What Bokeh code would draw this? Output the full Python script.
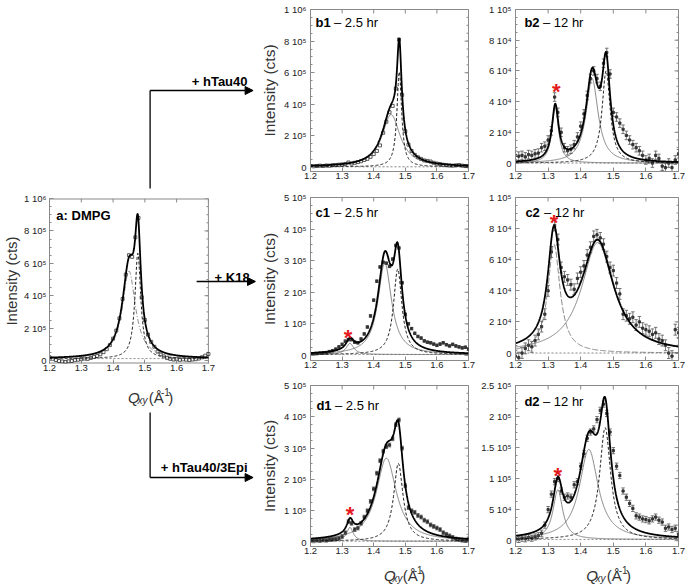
import math
import numpy as np
from bokeh.plotting import figure
from bokeh.layouts import row, column
from bokeh.models import LinearAxis, FixedTicker, Label, Arrow, NormalHead, Range1d
from bokeh.embed import file_html
from bokeh.resources import INLINE

FONT = "Liberation Sans"

# ---------------- data ----------------
Q = [1.20, 1.21, 1.22, 1.23, 1.24, 1.25, 1.26, 1.27, 1.28, 1.29,
     1.30, 1.31, 1.32, 1.33, 1.34, 1.35, 1.36, 1.37, 1.38, 1.39,
     1.40, 1.41, 1.42, 1.43, 1.44, 1.45, 1.46, 1.47, 1.48, 1.49,
     1.50, 1.51, 1.52, 1.53, 1.54, 1.55, 1.56, 1.57, 1.58, 1.59,
     1.60, 1.61, 1.62, 1.63, 1.64, 1.65, 1.66, 1.67, 1.68, 1.69, 1.70]

I_a = [2.0e4, 1.0e4, 0.3e4, -0.3e4, -0.6e4, -0.9e4, -0.5e4, -0.3e4, 0.2e4, 0.5e4,
       0.8e4, 1.2e4, 1.0e4, 1.6e4, 2.2e4, 2.8e4, 3.8e4, 5.2e4, 7.0e4, 9.5e4,
       1.35e5, 1.85e5, 2.6e5, 3.8e5, 5.3e5, 6.5e5, 6.4e5, 7.6e5, 8.8e5, 3.9e5,
       2.5e5, 1.6e5, 1.15e5, 8.5e4, 5.5e4, 3.8e4, 2.5e4, 1.5e4, 1.0e4, 0.6e4,
       0.8e4, 0.4e4, 0.7e4, 0.5e4, 0.3e4, 0.6e4, 0.8e4, 1.2e4, 2.0e4, 3.0e4, 4.0e4]

I_b1 = [1.0e4, 0.8e4, 1.0e4, 1.2e4, 1.0e4, 1.3e4, 1.2e4, 1.5e4, 1.6e4, 1.8e4,
        2.0e4, 2.2e4, 3.2e4, 2.5e4, 3.0e4, 3.5e4, 4.0e4, 4.8e4, 5.5e4, 6.8e4,
        8.5e4, 1.05e5, 1.4e5, 2.2e5, 2.9e5, 3.5e5, 3.9e5, 5.0e5, 8.1e5, 4.6e5,
        2.3e5, 1.45e5, 1.05e5, 8.0e4, 6.5e4, 5.5e4, 4.5e4, 4.2e4, 3.8e4, 3.0e4,
        2.5e4, 2.2e4, 1.8e4, 1.5e4, 1.3e4, 1.2e4, 1.4e4, 1.6e4, 1.2e4, 1.0e4, 0.8e4]

I_b2 = [5000, 4500, 5000, 4000, 5500, 5000, 6000, 6500, 10000, 11000,
        15000, 21000, 43000, 33000, 20000, 10000, 8000, 9000, 12000, 17000,
        24000, 32000, 44000, 55000, 60000, 55000, 50000, 65000, 72000, 58000,
        33000, 30000, 26000, 22000, 18000, 15000, 12000, 10000, 8000, 5000,
        2000, 3000, 0, 5000, 3000, -2000, -3000, 0, -3000, 2000, 6000]

I_c1 = [4000, 5000, 6000, 7000, 8000, 9000, 12000, 15000, 20000, 27000,
        35000, 45000, 50000, 50000, 42000, 40000, 52000, 68000, 90000, 125000,
        175000, 235000, 280000, 295000, 292000, 282000, 305000, 348000, 340000, 230000,
        130000, 100000, 85000, 70000, 60000, 55000, 46000, 42000, 40000, 36000,
        32000, 36000, 40000, 34000, 30000, 35000, 30000, 27000, 24000, 26000, 20000]

I_c2 = [-2000, -3000, 0, 3000, 5000, 4000, 8000, 12000, 17000, 25000,
        40000, 65000, 82000, 73000, 55000, 49000, 47000, 44000, 41000, 48000,
        52000, 56000, 63000, 68000, 75000, 76000, 74000, 70000, 62000, 55000,
        53000, 45000, 38000, 25000, 24000, 22000, 23000, 18000, 20000, 16000,
        15000, 14000, 12000, 13000, 9000, 8000, 5000, 0, -2000, 15000, 13000]

I_d1 = [5000, 4000, 6000, 5000, 7000, 6000, 8000, 9000, 10000, 12000,
        18000, 30000, 65000, 60000, 40000, 45000, 60000, 80000, 100000, 130000,
        170000, 220000, 260000, 290000, 305000, 310000, 330000, 375000, 390000, 300000,
        180000, 110000, 100000, 95000, 85000, 80000, 70000, 65000, 55000, 50000,
        45000, 40000, 30000, 25000, 20000, 15000, 10000, 8000, 6000, 5000, 10000]

I_d2 = [3000, 2000, 4000, 3000, 5000, 4000, 6000, 8000, 12000, 25000,
        50000, 75000, 95000, 100000, 80000, 70000, 72000, 70000, 90000, 95000,
        120000, 140000, 165000, 175000, 180000, 195000, 210000, 220000, 205000, 175000,
        145000, 120000, 105000, 80000, 70000, 60000, 52000, 40000, 38000, 35000,
        34000, 32000, 35000, 38000, 33000, 30000, 20000, 22000, 18000, 20000, 10000]

# error-bar half heights (counts)
ERR_b2 = 2800
ERR_c1 = 4000
ERR_c2 = 3500
ERR_d1 = 6000
ERR_d2 = 5000

# fitted peaks: centre, height, FWHM, style
FIT_a = [(1.450, 5.4e5, 0.050, "dashdot"), (1.478, 6.5e5, 0.022, "dash")]
FIT_b1 = [(1.455, 3.3e5, 0.070, "thin"), (1.481, 6.0e5, 0.018, "dash")]
FIT_b2 = [(1.322, 3.6e4, 0.025, "thin"), (1.435, 5.5e4, 0.045, "thin"), (1.478, 6.0e4, 0.030, "dash")]
FIT_c1 = [(1.325, 3.5e4, 0.030, "thin"), (1.435, 2.9e5, 0.052, "thin"), (1.476, 2.7e5, 0.032, "dash")]
FIT_c2 = [(1.318, 7.0e4, 0.045, "longdash"), (1.452, 7.1e4, 0.120, "thin")]
FIT_d1 = [(1.325, 4.4e4, 0.025, "thin"), (1.440, 2.65e5, 0.077, "thin"), (1.478, 2.48e5, 0.036, "dash")]
FIT_d2 = [(1.330, 8.0e4, 0.036, "thin"), (1.425, 1.45e5, 0.070, "thin"), (1.475, 1.8e5, 0.041, "dash")]
BASE = {"a": 1.2e4, "b1": 5e3, "b2": 0.0, "c1": 3e3, "c2": 0.0, "d1": 3e3, "d2": 2e3}

# red asterisks marking the extra peak
STAR = {"b2": (1.325, 5.0e4), "c1": (1.319, 7.4e4), "c2": (1.318, 8.7e4),
        "d1": (1.325, 1.05e5), "d2": (1.330, 1.135e5)}

X_TICKS = [1.2, 1.3, 1.4, 1.5, 1.6, 1.7]
X_LABELS = ["1.2", "1.3", "1.4", "1.5", "1.6", "1.7"]
Y_TICKS_1E6 = [0, 200000, 400000, 600000, 800000, 1000000]
Y_LABELS_1E6 = ["0", "2 10\u2075", "4 10\u2075", "6 10\u2075", "8 10\u2075", "1 10\u2076"]
Y_TICKS_1E5 = [0, 20000, 40000, 60000, 80000, 100000]
Y_LABELS_1E5 = ["0", "2 10\u2074", "4 10\u2074", "6 10\u2074", "8 10\u2074", "1 10\u2075"]
Y_TICKS_5E5 = [0, 100000, 200000, 300000, 400000, 500000]
Y_LABELS_5E5 = ["0", "1 10\u2075", "2 10\u2075", "3 10\u2075", "4 10\u2075", "5 10\u2075"]
Y_TICKS_25E4 = [0, 50000, 100000, 150000, 200000, 250000]
Y_LABELS_25E4 = ["0", "5 10\u2074", "1 10\u2075", "1.5 10\u2075", "2 10\u2075", "2.5 10\u2075"]

TITLES = {"a": ("a: DMPG", ""), "b1": ("b1", "\u2013 2.5 hr"), "b2": ("b2", "\u2013 12 hr"),
          "c1": ("c1", "\u2013 2.5 hr"), "c2": ("c2", "\u2013 12 hr"),
          "d1": ("d1", "\u2013 2.5 hr"), "d2": ("d2", "\u2013 12 hr")}
ARROW_TEXT = ["+ hTau40", "+ K18", "+ hTau40/3Epi"]

# ---------------- layout (page pixels) ----------------
GEOM = {
    "a":  dict(ox=0,   oy=190, w=258, h=191, bl=45, br=3,  bt=8,  bb=18, ymin=-1.85e4, ymax=1e6, dw=162, tdx=7, tdy=17),
    "b1": dict(ox=258, oy=0,   w=220, h=185, bl=50, br=10, bt=9,  bb=14, ymin=-2.5e4, ymax=1e6, tdx=5, tdy=13),
    "c1": dict(ox=258, oy=185, w=220, h=189, bl=50, br=10, bt=12, bb=14, ymin=-1.6e4, ymax=5e5, tdx=5, tdy=15),
    "d1": dict(ox=258, oy=374, w=220, h=184, bl=50, br=10, bt=11, bb=12, ymin=-1.4e4, ymax=5e5, tdx=6, tdy=20),
    "b2": dict(ox=478, oy=0,   w=207, h=185, bl=35, br=7,  bt=9,  bb=14, ymin=-5.5e3, ymax=1e5, tdx=9, tdy=13),
    "c2": dict(ox=478, oy=185, w=207, h=189, bl=35, br=7,  bt=12, bb=14, ymin=-4.8e3, ymax=1e5, tdx=10, tdy=15),
    "d2": dict(ox=478, oy=374, w=207, h=184, bl=35, br=7,  bt=11, bb=12, ymin=-9.4e3, ymax=2.5e5, tdx=9, tdy=16),
}
for g in GEOM.values():
    g["fl"] = g["ox"] + g["bl"]
    g["ft"] = g["oy"] + g["bt"]
    g["fw"] = g["w"] - g["bl"] - g["br"]
    g["fh"] = g["h"] - g["bt"] - g["bb"]
    dw = g.get("dw", g["fw"])          # pixel width of 1.2 .. 1.7
    g["dw"] = dw
    g["xmax"] = 1.2 + 0.5 * g["fw"] / dw


def X(g, px):
    return 1.2 + (px - g["fl"]) / g["dw"] * 0.5


def Y(g, py):
    return g["ymax"] - (py - g["ft"]) / g["fh"] * (g["ymax"] - g["ymin"])


AX_COLOR = "#8a8a8a"
TXT = "#222222"


def style_axis(ax):
    ax.axis_line_color = AX_COLOR
    ax.major_tick_line_color = AX_COLOR
    ax.minor_tick_line_color = AX_COLOR
    ax.major_tick_in = 4
    ax.major_tick_out = 0
    ax.minor_tick_in = 2
    ax.minor_tick_out = 0
    ax.major_label_text_font = FONT
    ax.major_label_text_font_size = "9.5px"
    ax.major_label_text_color = TXT


def make_panel(key, yticks, ylabels, ytitle=True):
    g = GEOM[key]
    p = figure(width=g["w"], height=g["h"], x_range=Range1d(1.2, g["xmax"]),
               y_range=Range1d(g["ymin"], g["ymax"]),
               min_border_left=g["bl"], min_border_right=g["br"],
               min_border_top=g["bt"], min_border_bottom=g["bb"],
               x_axis_type=None, y_axis_type=None,
               output_backend="svg", toolbar_location=None)
    p.background_fill_color = "white"
    p.border_fill_color = "white"
    step = yticks[1] - yticks[0]
    minor = [yticks[0] + step * k / 4.0 for k in range(4 * (len(yticks) - 1) + 1)]
    left = LinearAxis(ticker=FixedTicker(ticks=yticks, minor_ticks=minor))
    style_axis(left)
    left.major_label_standoff = 4 if key != "a" else 3
    left.major_label_overrides = {t: l for t, l in zip(yticks, ylabels)}
    if ytitle:
        left.axis_label = "Intensity (cts)"
        left.axis_label_text_font = FONT
        left.axis_label_text_font_style = "normal"
        left.axis_label_text_font_size = "15.5px" if key != "a" else "15px"
        left.axis_label_text_color = "#333333"
        left.axis_label_standoff = 3 if key != "a" else 1
    below = LinearAxis(ticker=FixedTicker(ticks=X_TICKS, minor_ticks=[]))
    style_axis(below)
    below.major_label_standoff = 1
    below.major_label_overrides = {t: l for t, l in zip(X_TICKS, X_LABELS)}
    p.add_layout(left, "left")
    p.add_layout(below, "below")

    # inward ticks on the right and top edges of the panel box
    dx_major = 4 * 0.5 / g["dw"]
    dy_major = 4 * (g["ymax"] - g["ymin"]) / g["fh"]
    yt = np.asarray(yticks, dtype=float)
    ym = np.asarray(minor, dtype=float)
    xt = np.asarray(X_TICKS, dtype=float)
    p.segment(np.full_like(yt, 1.7 - dx_major), yt, np.full_like(yt, 1.7), yt,
              line_color=AX_COLOR, line_width=1)
    p.segment(np.full_like(ym, 1.7 - dx_major / 2), ym, np.full_like(ym, 1.7), ym,
              line_color=AX_COLOR, line_width=1)
    p.segment(xt, np.full_like(xt, g["ymax"] - dy_major), xt, np.full_like(xt, g["ymax"]),
              line_color=AX_COLOR, line_width=1)
    if key == "a":
        # the frame is wider than the panel (room for the K18 arrow): draw the box
        p.outline_line_color = None
        below.axis_line_color = None
        p.segment([1.2, 1.2], [g["ymin"], g["ymax"]], [1.7, 1.7], [g["ymin"], g["ymax"]],
                  line_color=AX_COLOR, line_width=2)
        p.segment([1.7], [g["ymin"]], [1.7], [g["ymax"]], line_color=AX_COLOR, line_width=1)
    else:
        p.outline_line_color = AX_COLOR

    # panel title
    bold, rest = TITLES[key]
    tx, ty = g["fl"] + g["tdx"], g["ft"] + g["tdy"]
    p.add_layout(Label(x=X(g, tx), y=Y(g, ty), text=bold, text_font=FONT,
                       text_font_style="bold", text_font_size="13px",
                       text_color="black", text_baseline="alphabetic"))
    if rest:
        p.add_layout(Label(x=X(g, tx + 18.8), y=Y(g, ty), text=rest, text_font=FONT,
                           text_font_size="13px", text_color="black",
                           text_baseline="alphabetic"))
    return p, g


def lor(x, c, h, w):
    return h / (1.0 + ((x - c) / (w / 2.0)) ** 2)


XS = np.linspace(1.2, 1.7, 601)
DASH = {"thin": "solid", "dash": "3 2", "dashdot": "5 2 1 2", "longdash": "6 2"}


def draw_fit(p, key, fit):
    base = BASE[key]
    total = np.full_like(XS, base)
    p.line(XS, np.full_like(XS, base), line_color="#555555", line_width=0.8, line_dash="2 2")
    for c, h, w, st in fit:
        comp = lor(XS, c, h, w)
        total = total + comp
        if st == "dash":
            p.line(XS, comp + base, line_color="black", line_width=0.9, line_dash=DASH[st])
        else:
            p.line(XS, comp + base, line_color="#555555", line_width=0.7, line_dash=DASH[st])
    p.line(XS, total, line_color="black", line_width=1.8)


def draw_points(p, I, err=None):
    I = np.asarray(I, dtype=float)
    if err:
        p.segment(Q, I - err, Q, I + err, line_color="#555555", line_width=0.8)
        p.scatter(Q, I + err, marker="dash", size=3.5, line_color="#555555", line_width=0.8)
        p.scatter(Q, I - err, marker="dash", size=3.5, line_color="#555555", line_width=0.8)
        p.scatter(Q, I, marker="square", size=2.2, fill_color="#333333", line_color="#333333")
    else:
        p.scatter(Q, I, marker="square", size=3, fill_color=None, line_color="#333333",
                  line_width=0.8)


def star(p, key):
    sx, sy = STAR[key]
    p.add_layout(Label(x=sx, y=sy, text="*", text_font=FONT, text_font_style="bold",
                       text_font_size="22px", text_color="#e41a1c", text_align="center",
                       text_baseline="middle", y_offset=-5))


def deco_fig(x0, y0, w, h):
    """plain figure whose frame is the whole canvas, ranges in page pixels"""
    p = figure(width=w, height=h, x_range=Range1d(x0, x0 + w), y_range=Range1d(y0 + h, y0),
               min_border=0, x_axis_type=None, y_axis_type=None,
               output_backend="svg", toolbar_location=None)
    p.outline_line_color = None
    p.background_fill_color = "white"
    p.border_fill_color = "white"
    return p


def q_title(p, cx, base_py, xconv=lambda v: v, yconv=lambda v: v):
    start = cx - 27.7
    pieces = [("Q", "15px", "italic", 0.0, 0.0),
              ("xy", "10px", "italic", 11.9, 2.5),
              ("(\u00c5", "15px", "normal", 26.1, 0.0),
              ("-1", "10px", "normal", 41.3, -5.5),
              (")", "15px", "normal", 50.4, 0.0)]
    for t, fs, style, off, dy in pieces:
        p.add_layout(Label(x=xconv(start + off), y=yconv(base_py + dy), text=t, text_font=FONT,
                           text_font_size=fs, text_font_style=style, text_color="#333333",
                           text_baseline="alphabetic"))


def arrow_text(p, txt, px, py, xconv=lambda v: v, yconv=lambda v: v):
    p.add_layout(Label(x=xconv(px), y=yconv(py), text=txt, text_font=FONT,
                       text_font_style="bold", text_font_size="13px", text_color="black",
                       text_align="right", text_baseline="alphabetic"))


def seg(p, x0, y0, x1, y1, head=False, xconv=lambda v: v, yconv=lambda v: v):
    p.add_layout(Arrow(x_start=xconv(x0), y_start=yconv(y0), x_end=xconv(x1), y_end=yconv(y1),
                       end=NormalHead(size=8, fill_color="black", line_color="black") if head else None,
                       line_color="black", line_width=1.3))


# ---------------- panels ----------------
pa, ga = make_panel("a", Y_TICKS_1E6, Y_LABELS_1E6)
draw_points(pa, I_a)
draw_fit(pa, "a", FIT_a)

pb1, gb1 = make_panel("b1", Y_TICKS_1E6, Y_LABELS_1E6)
draw_points(pb1, I_b1)
draw_fit(pb1, "b1", FIT_b1)

pc1, gc1 = make_panel("c1", Y_TICKS_5E5, Y_LABELS_5E5)
draw_points(pc1, I_c1, ERR_c1)
draw_fit(pc1, "c1", FIT_c1)
star(pc1, "c1")

pd1, gd1 = make_panel("d1", Y_TICKS_5E5, Y_LABELS_5E5)
draw_points(pd1, I_d1, ERR_d1)
draw_fit(pd1, "d1", FIT_d1)
star(pd1, "d1")

pb2, gb2 = make_panel("b2", Y_TICKS_1E5, Y_LABELS_1E5, ytitle=False)
draw_points(pb2, I_b2, ERR_b2)
draw_fit(pb2, "b2", FIT_b2)
star(pb2, "b2")

pc2, gc2 = make_panel("c2", Y_TICKS_1E5, Y_LABELS_1E5, ytitle=False)
draw_points(pc2, I_c2, ERR_c2)
draw_fit(pc2, "c2", FIT_c2)
star(pc2, "c2")

pd2, gd2 = make_panel("d2", Y_TICKS_25E4, Y_LABELS_25E4, ytitle=False)
draw_points(pd2, I_d2, ERR_d2)
draw_fit(pd2, "d2", FIT_d2)
star(pd2, "d2")

# ---------------- arrows and free texts ----------------
top = deco_fig(0, 0, 258, 190)
seg(top, 126, 188, 126, 90)
seg(top, 126, 90, 255, 90, head=True)
arrow_text(top, ARROW_TEXT[0], 248, 81)

xa = lambda v: X(ga, v)
ya = lambda v: Y(ga, v)
seg(pa, 195, 281, 255, 281, head=True, xconv=xa, yconv=ya)
arrow_text(pa, ARROW_TEXT[1], 249, 277, xconv=xa, yconv=ya)

bottom = deco_fig(0, 381, 258, 203)
q_title(bottom, (ga["fl"] + ga["fl"] + ga["dw"]) / 2.0, 397)
seg(bottom, 126, 412, 126, 477)
seg(bottom, 126, 477, 255, 477, head=True)
arrow_text(bottom, ARROW_TEXT[2], 248, 467)

q1 = deco_fig(258, 558, 220, 26)
q_title(q1, gd1["fl"] + gd1["fw"] / 2.0, 575)
q2 = deco_fig(478, 558, 207, 26)
q_title(q2, gd2["fl"] + gd2["fw"] / 2.0, 575)

layout = row(column(top, pa, bottom),
             column(pb1, pc1, pd1, q1),
             column(pb2, pc2, pd2, q2))
open("out.html", "w").write(file_html(layout, INLINE))
